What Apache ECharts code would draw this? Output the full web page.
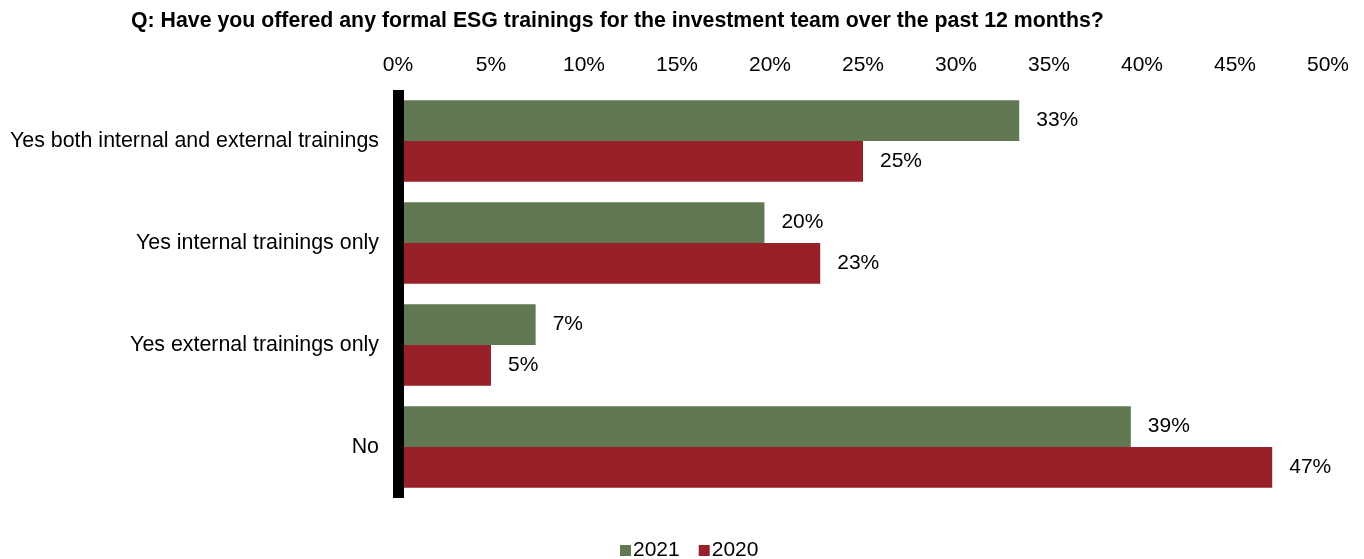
<!DOCTYPE html>
<html><head><meta charset="utf-8">
<script src="https://cdn.jsdelivr.net/npm/echarts@6/dist/echarts.min.js"></script>
<style>html,body{margin:0;padding:0;background:#fff}#c{width:1364px;height:559px}</style>
</head><body><div id="c"></div>
<script>
const categories = ["Yes both internal and external trainings","Yes internal trainings only","Yes external trainings only","No"];
const series2021 = [33.4, 19.7, 7.4, 39.4];
const series2020 = [25.0, 22.7, 5.0, 47.0];
const xTicks = [0,5,10,15,20,25,30,35,40,45,50];
const FONT = '"Liberation Sans", Arial, sans-serif';
const chart = echarts.init(document.getElementById('c'));
const lbl = {show:true, position:'right', distance:17, color:'#000', fontSize:21, fontFamily:FONT, formatter:p=>Math.round(p.value)+'%'};
chart.setOption({
  animation:false,
  title:{text:'Q: Have you offered any formal ESG trainings for the investment team over the past 12 months?', left:126, top:6,
    textStyle:{fontSize:21.3, fontWeight:'bold', color:'#000', fontFamily:FONT}},
  legend:{top:535, left:615, itemWidth:11, itemHeight:11, itemGap:19, icon:'rect',
    textStyle:{fontSize:21, color:'#000', fontFamily:FONT, padding:[0,0,0,-3]}, data:['2021','2020']},
  grid:{left:398, right:36, top:90, bottom:61, containLabel:false},
  xAxis:{type:'value', position:'top', min:0, max:50, interval:5,
    axisLabel:{formatter:v=>v+'%', fontSize:21, color:'#000', fontFamily:FONT, margin:14},
    axisLine:{show:false}, axisTick:{show:false}, splitLine:{show:false}},
  yAxis:{type:'category', inverse:true, data:categories, z:10,
    axisLine:{show:true, lineStyle:{color:'#000', width:11, cap:'butt'}},
    axisTick:{show:false},
    axisLabel:{fontSize:21.4, color:'#000', fontFamily:FONT, margin:19}},
  series:[
    {name:'2021', type:'bar', data:series2021, barGap:'0%', barCategoryGap:'20%', itemStyle:{color:'#627853'}, label:lbl},
    {name:'2020', type:'bar', data:series2020, itemStyle:{color:'#972029'}, label:lbl}
  ]
});
</script></body></html>
